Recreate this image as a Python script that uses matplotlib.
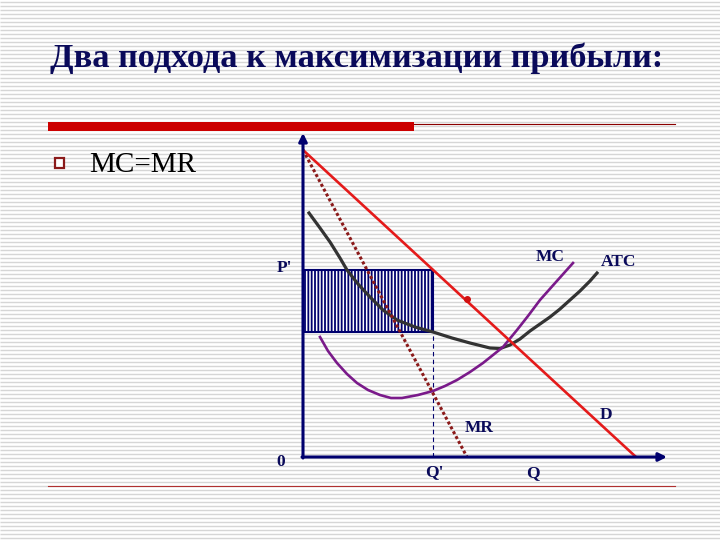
import numpy as np
import matplotlib
matplotlib.use('Agg')
import matplotlib.pyplot as plt
from matplotlib.patches import Rectangle

plt.rcParams['hatch.linewidth'] = 1.3

# ── slide text ────────────────────────────────────────────────────────────────
TITLE = 'Два подхода к максимизации прибыли:'
BULLET = 'MC=MR'

# ── diagram values (1 unit ≈ 10 px) ──────────────────────────────────────────
D_Q = [0.0, 33.3]
D_P = [30.7, 0.0]
MR_Q = [0.0, 16.4]
MR_P = [30.7, 0.0]
ATC_Q = [0.6, 1.7, 2.7, 3.7, 4.4, 5.5, 6.7, 8.0, 9.4, 11.2, 13.0, 14.9, 16.7,
         18.7, 19.7, 20.7, 21.7, 22.7, 23.7, 24.7, 25.7, 26.7, 27.7, 28.7, 29.4]
ATC_P = [24.4, 22.9, 21.5, 19.9, 18.7, 17.3, 16.0, 14.7, 13.7, 13.0, 12.5, 11.9, 11.4,
         10.9, 10.85, 11.2, 11.8, 12.6, 13.3, 14.0, 14.8, 15.7, 16.6, 17.6, 18.4]
MC_Q = [1.7, 2.5, 3.4, 4.4, 5.4, 6.5, 7.7, 8.8, 9.9, 11.5, 13.0,
        14.2, 15.4, 16.7, 18.0, 19.0, 20.0, 21.4, 22.5, 23.7, 25.3, 27.0]
MC_P = [12.0, 10.6, 9.4, 8.3, 7.4, 6.7, 6.2, 5.9, 5.9, 6.2, 6.6,
        7.1, 7.7, 8.5, 9.4, 10.2, 11.0, 12.7, 14.1, 15.7, 17.5, 19.4]
P_PRIME = 18.7
Q_PRIME = 13.0
ATC_AT_Q = 12.5
D_MARK_Q, D_MARK_P = 16.4, 15.8

LABELS = [('MC', 24.7, 20.0), ('ATC', 31.6, 19.5), ('D', 30.3, 4.2),
          ('MR', 17.6, 2.9), ('0', -2.2, -0.5), ("Q'", 13.1, -1.5),
          ('Q', 23.0, -1.6), ("P'", -1.9, 18.9)]

NAVY = '#00006e'
TXT = '#0a0a5a'

fig = plt.figure(figsize=(7.2, 5.4), dpi=100)

# ── slide background (pixel coordinates) ────────────────────────────────────
bg = fig.add_axes([0, 0, 1, 1])
bg.set_xlim(0, 720)
bg.set_ylim(540, 0)
bg.axis('off')
bg.hlines(np.arange(1.5, 540, 4), 0, 720, color='#d6d6d6', lw=1.0, zorder=0)

bg.text(50, 67, TITLE, fontsize=24.7, fontweight='bold', family='Liberation Serif',
        color=TXT, va='baseline')
bg.add_patch(Rectangle((48, 122), 366, 9, facecolor='#cc0000', lw=0, zorder=3))
bg.plot([414, 675], [124, 124], color='#8b0000', lw=0.8, zorder=3)
bg.plot([48, 675], [486, 486], color='#b03030', lw=0.8, zorder=3)
bg.add_patch(Rectangle((55, 158), 9, 10, facecolor='white', edgecolor='#8b1a1a',
                       lw=1.6, zorder=3))
bg.text(89, 172, BULLET, fontsize=21, family='Liberation Serif', color='black',
        va='baseline')

# ── diagram ──────────────────────────────────────────────────────────────────
ax = fig.add_axes([303 / 720, (540 - 457) / 540, (667 - 303) / 720, (457 - 133) / 540])
ax.set_xlim(0, 36.4)
ax.set_ylim(0, 32.4)
ax.axis('off')
ax.patch.set_alpha(0)

ax.add_patch(Rectangle((0, ATC_AT_Q), Q_PRIME, P_PRIME - ATC_AT_Q, facecolor='white',
                       edgecolor=NAVY, hatch='|||||', lw=1.5, zorder=2))
ax.plot([Q_PRIME, Q_PRIME], [0, ATC_AT_Q], color=NAVY, lw=0.8, ls=(0, (4, 3)), zorder=2)

ax.plot(ATC_Q, ATC_P, color='#333333', lw=2.3, zorder=3, solid_joinstyle='round')
ax.plot(MC_Q, MC_P, color='#7a1a8a', lw=1.9, zorder=4, solid_joinstyle='round')
ax.plot(MR_Q, MR_P, color='#8b1a1a', lw=2.2, ls=(0, (1, 0.8)), zorder=4)
ax.plot(D_Q, D_P, color='#e41a1a', lw=1.9, zorder=5)
ax.plot([D_MARK_Q], [D_MARK_P], 'o', color='#d01010', ms=4, zorder=6)

arrow = dict(arrowstyle='-|>', color=NAVY, lw=2.2, mutation_scale=12, shrinkA=0, shrinkB=0)
ax.annotate('', xy=(0, 32.4), xytext=(0, -0.1), arrowprops=arrow, annotation_clip=False, zorder=7)
ax.annotate('', xy=(36.4, 0), xytext=(-0.1, 0), arrowprops=arrow, annotation_clip=False, zorder=7)

for txt, x, y in LABELS:
    ax.text(x, y, txt, fontsize=12.5, fontweight='bold', family='Liberation Serif',
            color=TXT, ha='center', va='center', clip_on=False)

fig.savefig('out.png', dpi=100)
